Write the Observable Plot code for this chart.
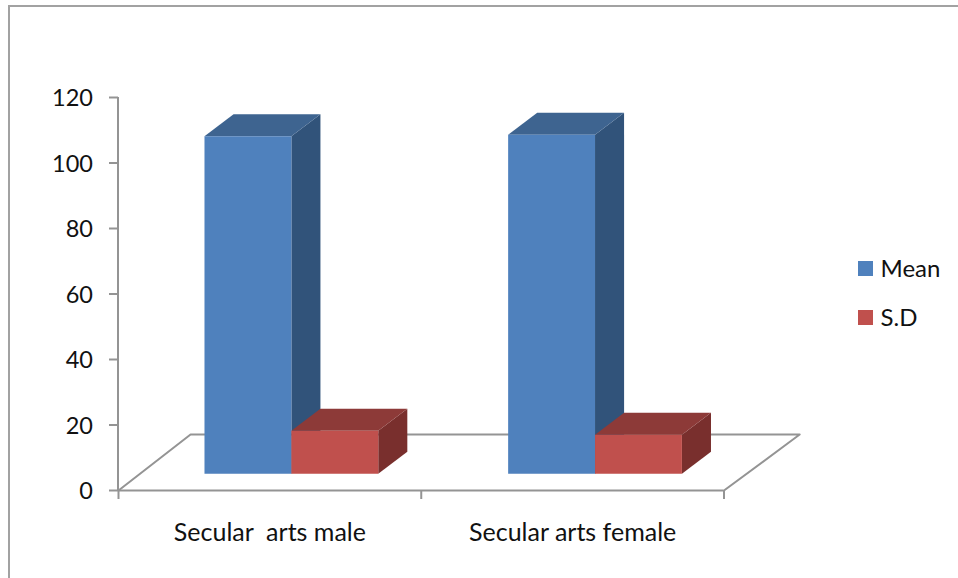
<!DOCTYPE html>
<html>
<head>
<meta charset="utf-8">
<script src="https://cdn.jsdelivr.net/npm/d3@7"></script>
<script src="https://cdn.jsdelivr.net/npm/@observablehq/plot@0.6"></script>
<style>
  html, body { margin: 0; padding: 0; background: #fff; width: 958px; height: 578px; overflow: hidden; }
  body { position: relative; font-family: Lato, "Open Sans", sans-serif; color: #111; }
  #chart { position: absolute; left: 0; top: 0; }
  #frame { position: absolute; left: 8px; top: 5px; width: 960px; height: 600px; border-top: 2px solid #a2a2a2; border-left: 2px solid #a2a2a2; }
  .lg { position: absolute; left: 858px; display: flex; align-items: center; font-size: 24px; height: 24px; line-height: 24px; }
  .lg i { display: block; width: 15px; height: 15px; margin-right: 7.5px; }
</style>
</head>
<body>
<div id="frame"></div>
<div id="chart"></div>
<div class="lg" style="top:256px"><i style="background:#4f81bd"></i>Mean</div>
<div class="lg" style="top:305px"><i style="background:#c0504d"></i>S.D</div>
<script>
const categories = ["Secular  arts male", "Secular arts female"];
const seriesNames = ["Mean", "S.D"];
const meanValues = [103, 103.5];
const sdValues = [13.1, 11.9];
const yTicks = [0, 20, 40, 60, 80, 100, 120];

// Colours of the faces of each series
const faceColors = {
  "Mean": {front: "#4f81bd", top: "#3e6490", side: "#31537a"},
  "S.D": {front: "#c0504d", top: "#8d3a38", side: "#792f2d"}
};

// Oblique projection, in scale units
const barWidth = 0.287, barInset = 0.284, barStep = 1.003;
const depthX = 0.096, depthY = 6.72, baseY = 5.13;
const floorX = 0.238, floorEndX = 2.25, floorY = 17.1;

const bars = [];
categories.forEach((c, i) => {
  [meanValues[i], sdValues[i]].forEach((v, s) => {
    const x1 = barInset + i * barStep + s * barWidth;
    bars.push({id: `${i}-${s}`, series: seriesNames[s], x1, x2: x1 + barWidth, y1: baseY, y2: baseY + v});
  });
});

const faces = [];
for (const b of bars) {
  const c = faceColors[b.series];
  const poly = (name, color, pts) => pts.forEach(([x, y]) => faces.push({id: b.id + name, color, x, y}));
  poly("side", c.side, [[b.x2, b.y1], [b.x2 + depthX, b.y1 + depthY], [b.x2 + depthX, b.y2 + depthY], [b.x2, b.y2]]);
  poly("top", c.top, [[b.x1, b.y2], [b.x1 + depthX, b.y2 + depthY], [b.x2 + depthX, b.y2 + depthY], [b.x2, b.y2]]);
  poly("front", c.front, [[b.x1, b.y1], [b.x2, b.y1], [b.x2, b.y2], [b.x1, b.y2]]);
}

const floor = [[0, 0], [floorX, floorY], [floorEndX, floorY], [categories.length, 0]];
const axisColor = "#949494";

const plot = Plot.plot({
  width: 958, height: 578,
  marginLeft: 118, marginRight: 234.5, marginTop: 97, marginBottom: 88,
  style: {background: "transparent", fontFamily: "Lato, 'Open Sans', sans-serif", overflow: "visible"},
  x: {domain: [0, categories.length], axis: null},
  y: {domain: [0, 120], axis: null},
  color: {type: "identity"},
  marks: [
    Plot.line(floor, {x: d => d[0], y: d => d[1], stroke: axisColor, strokeWidth: 2}),
    Plot.ruleX([0], {y1: 0, y2: 120, stroke: axisColor, strokeWidth: 2, dx: -0.5}),
    Plot.ruleY([0], {x1: 0, x2: categories.length, stroke: axisColor, strokeWidth: 2}),
    Plot.axisY(yTicks, {
      anchor: "left", label: null, tickSize: 9, tickFormat: () => "",
      stroke: axisColor, strokeWidth: 2, strokeOpacity: 1
    }),
    Plot.axisY(yTicks, {
      anchor: "left", label: null, tickSize: 0, tickPadding: 25.5,
      fill: "#111", fontSize: 23.5, dy: 1
    }),
    Plot.axisX([0, 1, 2], {
      anchor: "bottom", label: null, tickSize: 9, tickFormat: () => "",
      stroke: axisColor, strokeWidth: 2, strokeOpacity: 1
    }),
    Plot.axisX([0.5, 1.5], {
      anchor: "bottom", label: null, tickSize: 0, tickPadding: 33,
      tickFormat: d => categories[Math.floor(d)],
      fill: "#111", fontSize: 25
    }),
    Plot.line(faces, {x: "x", y: "y", z: "id", fill: "color", stroke: "none"})
  ]
});
document.getElementById("chart").append(plot);
</script>
</body>
</html>
